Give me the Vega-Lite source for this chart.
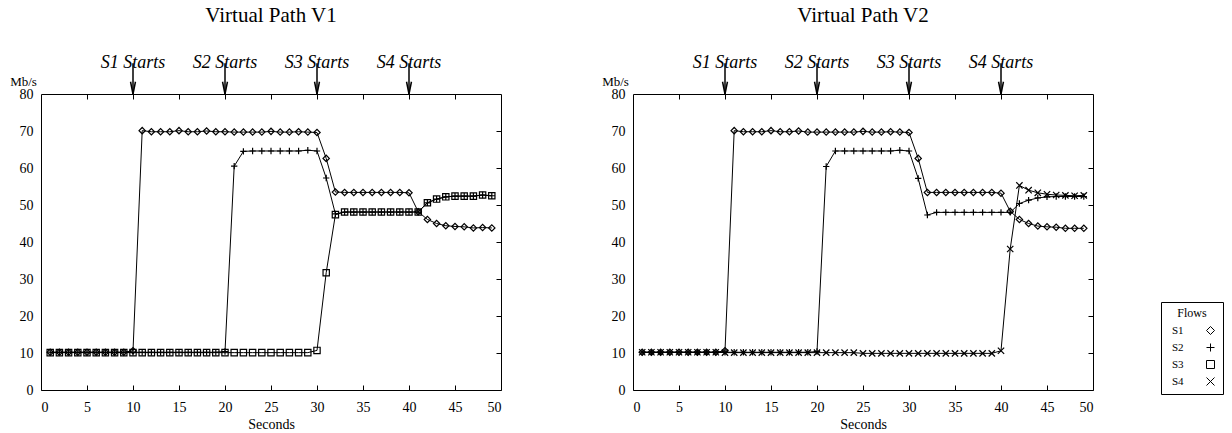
{
  "$schema": "https://vega.github.io/schema/vega-lite/v6.json",
  "autosize": "none",
  "padding": {"left": 41, "top": 94, "right": 1191, "bottom": 339},
  "background": "white",
  "config": {
    "view": {"stroke": "black", "strokeWidth": 1},
    "font": "Liberation Serif",
    "axis": {"grid": false, "domain": false, "labelFont": "Liberation Serif", "titleFont": "Liberation Serif", "labelColor": "black", "titleColor": "black", "tickColor": "black", "labelFontSize": 14, "titleFontSize": 14, "titleFontWeight": "normal"},
    "title": {"font": "Liberation Serif", "fontSize": 21, "fontWeight": "normal", "color": "black", "offset": 28},
    "legend": {"orient": "none", "legendX": 1120, "legendY": 208, "strokeColor": "black", "padding": 6, "labelFont": "Liberation Serif", "labelFontSize": 11, "labelColor": "black", "titleFont": "Liberation Serif", "titleFontSize": 12, "titleFontWeight": "normal", "titleColor": "black", "titleAnchor": "middle", "symbolSize": 64, "symbolStrokeColor": "black", "symbolStrokeWidth": 1, "symbolOffset": 38, "labelOffset": -44, "rowPadding": 4}
  },
  "resolve": {"legend": {"shape": "independent"}},
  "datasets": {
    "ann": [
      {"t": 10, "label": "S1 Starts"},
      {"t": 20, "label": "S2 Starts"},
      {"t": 30, "label": "S3 Starts"},
      {"t": 40, "label": "S4 Starts"}
    ],
    "v1": [
      {"t":1,"f":"S1","v":10.2},{"t":2,"f":"S1","v":10.2},{"t":3,"f":"S1","v":10.2},{"t":4,"f":"S1","v":10.2},{"t":5,"f":"S1","v":10.2},{"t":6,"f":"S1","v":10.2},{"t":7,"f":"S1","v":10.2},{"t":8,"f":"S1","v":10.2},{"t":9,"f":"S1","v":10.2},{"t":10,"f":"S1","v":10.6},
      {"t":11,"f":"S1","v":70.1},{"t":12,"f":"S1","v":69.8},{"t":13,"f":"S1","v":69.8},{"t":14,"f":"S1","v":69.8},{"t":15,"f":"S1","v":70.1},{"t":16,"f":"S1","v":69.8},{"t":17,"f":"S1","v":69.8},{"t":18,"f":"S1","v":70.0},{"t":19,"f":"S1","v":69.8},{"t":20,"f":"S1","v":69.8},
      {"t":21,"f":"S1","v":69.7},{"t":22,"f":"S1","v":69.7},{"t":23,"f":"S1","v":69.7},{"t":24,"f":"S1","v":69.7},{"t":25,"f":"S1","v":69.9},{"t":26,"f":"S1","v":69.7},{"t":27,"f":"S1","v":69.7},{"t":28,"f":"S1","v":69.8},{"t":29,"f":"S1","v":69.7},{"t":30,"f":"S1","v":69.6},
      {"t":31,"f":"S1","v":62.6},{"t":32,"f":"S1","v":53.5},{"t":33,"f":"S1","v":53.4},{"t":34,"f":"S1","v":53.4},{"t":35,"f":"S1","v":53.4},{"t":36,"f":"S1","v":53.4},{"t":37,"f":"S1","v":53.4},{"t":38,"f":"S1","v":53.4},{"t":39,"f":"S1","v":53.4},{"t":40,"f":"S1","v":53.3},
      {"t":41,"f":"S1","v":48.2},{"t":42,"f":"S1","v":46.1},{"t":43,"f":"S1","v":45.0},{"t":44,"f":"S1","v":44.4},{"t":45,"f":"S1","v":44.2},{"t":46,"f":"S1","v":44.1},{"t":47,"f":"S1","v":43.8},{"t":48,"f":"S1","v":43.9},{"t":49,"f":"S1","v":43.8},
      {"t":1,"f":"S2","v":10.2},{"t":2,"f":"S2","v":10.2},{"t":3,"f":"S2","v":10.2},{"t":4,"f":"S2","v":10.2},{"t":5,"f":"S2","v":10.2},{"t":6,"f":"S2","v":10.2},{"t":7,"f":"S2","v":10.2},{"t":8,"f":"S2","v":10.2},{"t":9,"f":"S2","v":10.2},{"t":10,"f":"S2","v":10.2},
      {"t":11,"f":"S2","v":10.2},{"t":12,"f":"S2","v":10.2},{"t":13,"f":"S2","v":10.2},{"t":14,"f":"S2","v":10.2},{"t":15,"f":"S2","v":10.2},{"t":16,"f":"S2","v":10.2},{"t":17,"f":"S2","v":10.2},{"t":18,"f":"S2","v":10.2},{"t":19,"f":"S2","v":10.2},{"t":20,"f":"S2","v":10.4},
      {"t":21,"f":"S2","v":60.5},{"t":22,"f":"S2","v":64.5},{"t":23,"f":"S2","v":64.6},{"t":24,"f":"S2","v":64.6},{"t":25,"f":"S2","v":64.6},{"t":26,"f":"S2","v":64.6},{"t":27,"f":"S2","v":64.6},{"t":28,"f":"S2","v":64.6},{"t":29,"f":"S2","v":64.8},{"t":30,"f":"S2","v":64.6},
      {"t":31,"f":"S2","v":57.3},{"t":32,"f":"S2","v":47.6},{"t":33,"f":"S2","v":48.1},{"t":34,"f":"S2","v":48.1},{"t":35,"f":"S2","v":48.1},{"t":36,"f":"S2","v":48.1},{"t":37,"f":"S2","v":48.1},{"t":38,"f":"S2","v":48.1},{"t":39,"f":"S2","v":48.1},{"t":40,"f":"S2","v":48.1},
      {"t":41,"f":"S2","v":48.1},{"t":42,"f":"S2","v":50.6},{"t":43,"f":"S2","v":51.6},{"t":44,"f":"S2","v":52.2},{"t":45,"f":"S2","v":52.4},{"t":46,"f":"S2","v":52.4},{"t":47,"f":"S2","v":52.4},{"t":48,"f":"S2","v":52.7},{"t":49,"f":"S2","v":52.5},
      {"t":1,"f":"S3","v":10.1},{"t":2,"f":"S3","v":10.1},{"t":3,"f":"S3","v":10.1},{"t":4,"f":"S3","v":10.1},{"t":5,"f":"S3","v":10.1},{"t":6,"f":"S3","v":10.1},{"t":7,"f":"S3","v":10.1},{"t":8,"f":"S3","v":10.1},{"t":9,"f":"S3","v":10.1},{"t":10,"f":"S3","v":10.1},
      {"t":11,"f":"S3","v":10.1},{"t":12,"f":"S3","v":10.1},{"t":13,"f":"S3","v":10.1},{"t":14,"f":"S3","v":10.1},{"t":15,"f":"S3","v":10.1},{"t":16,"f":"S3","v":10.1},{"t":17,"f":"S3","v":10.1},{"t":18,"f":"S3","v":10.1},{"t":19,"f":"S3","v":10.1},{"t":20,"f":"S3","v":10.1},
      {"t":21,"f":"S3","v":10.1},{"t":22,"f":"S3","v":10.1},{"t":23,"f":"S3","v":10.1},{"t":24,"f":"S3","v":10.1},{"t":25,"f":"S3","v":10.1},{"t":26,"f":"S3","v":10.1},{"t":27,"f":"S3","v":10.1},{"t":28,"f":"S3","v":10.1},{"t":29,"f":"S3","v":10.1},{"t":30,"f":"S3","v":10.7},
      {"t":31,"f":"S3","v":31.7},{"t":32,"f":"S3","v":47.4},{"t":33,"f":"S3","v":48.1},{"t":34,"f":"S3","v":48.1},{"t":35,"f":"S3","v":48.1},{"t":36,"f":"S3","v":48.1},{"t":37,"f":"S3","v":48.1},{"t":38,"f":"S3","v":48.1},{"t":39,"f":"S3","v":48.1},{"t":40,"f":"S3","v":48.1},
      {"t":41,"f":"S3","v":48.1},{"t":42,"f":"S3","v":50.6},{"t":43,"f":"S3","v":51.6},{"t":44,"f":"S3","v":52.2},{"t":45,"f":"S3","v":52.4},{"t":46,"f":"S3","v":52.4},{"t":47,"f":"S3","v":52.4},{"t":48,"f":"S3","v":52.7},{"t":49,"f":"S3","v":52.5}
    ],
    "v2": [
      {"t":1,"f":"S1","v":10.2},{"t":2,"f":"S1","v":10.2},{"t":3,"f":"S1","v":10.2},{"t":4,"f":"S1","v":10.2},{"t":5,"f":"S1","v":10.2},{"t":6,"f":"S1","v":10.2},{"t":7,"f":"S1","v":10.2},{"t":8,"f":"S1","v":10.2},{"t":9,"f":"S1","v":10.2},{"t":10,"f":"S1","v":10.6},
      {"t":11,"f":"S1","v":70.1},{"t":12,"f":"S1","v":69.8},{"t":13,"f":"S1","v":69.8},{"t":14,"f":"S1","v":69.8},{"t":15,"f":"S1","v":70.1},{"t":16,"f":"S1","v":69.8},{"t":17,"f":"S1","v":69.8},{"t":18,"f":"S1","v":70.0},{"t":19,"f":"S1","v":69.7},{"t":20,"f":"S1","v":69.7},
      {"t":21,"f":"S1","v":69.7},{"t":22,"f":"S1","v":69.7},{"t":23,"f":"S1","v":69.7},{"t":24,"f":"S1","v":69.7},{"t":25,"f":"S1","v":69.9},{"t":26,"f":"S1","v":69.7},{"t":27,"f":"S1","v":69.7},{"t":28,"f":"S1","v":69.8},{"t":29,"f":"S1","v":69.7},{"t":30,"f":"S1","v":69.6},
      {"t":31,"f":"S1","v":62.6},{"t":32,"f":"S1","v":53.4},{"t":33,"f":"S1","v":53.4},{"t":34,"f":"S1","v":53.4},{"t":35,"f":"S1","v":53.4},{"t":36,"f":"S1","v":53.4},{"t":37,"f":"S1","v":53.4},{"t":38,"f":"S1","v":53.4},{"t":39,"f":"S1","v":53.4},{"t":40,"f":"S1","v":53.2},
      {"t":41,"f":"S1","v":48.3},{"t":42,"f":"S1","v":46.1},{"t":43,"f":"S1","v":45.0},{"t":44,"f":"S1","v":44.3},{"t":45,"f":"S1","v":44.1},{"t":46,"f":"S1","v":44.0},{"t":47,"f":"S1","v":43.7},{"t":48,"f":"S1","v":43.7},{"t":49,"f":"S1","v":43.7},
      {"t":1,"f":"S2","v":10.2},{"t":2,"f":"S2","v":10.2},{"t":3,"f":"S2","v":10.2},{"t":4,"f":"S2","v":10.2},{"t":5,"f":"S2","v":10.2},{"t":6,"f":"S2","v":10.2},{"t":7,"f":"S2","v":10.2},{"t":8,"f":"S2","v":10.2},{"t":9,"f":"S2","v":10.2},{"t":10,"f":"S2","v":10.2},
      {"t":11,"f":"S2","v":10.2},{"t":12,"f":"S2","v":10.2},{"t":13,"f":"S2","v":10.2},{"t":14,"f":"S2","v":10.2},{"t":15,"f":"S2","v":10.2},{"t":16,"f":"S2","v":10.2},{"t":17,"f":"S2","v":10.2},{"t":18,"f":"S2","v":10.2},{"t":19,"f":"S2","v":10.2},{"t":20,"f":"S2","v":10.4},
      {"t":21,"f":"S2","v":60.4},{"t":22,"f":"S2","v":64.6},{"t":23,"f":"S2","v":64.6},{"t":24,"f":"S2","v":64.6},{"t":25,"f":"S2","v":64.6},{"t":26,"f":"S2","v":64.6},{"t":27,"f":"S2","v":64.6},{"t":28,"f":"S2","v":64.6},{"t":29,"f":"S2","v":64.8},{"t":30,"f":"S2","v":64.6},
      {"t":31,"f":"S2","v":57.2},{"t":32,"f":"S2","v":47.3},{"t":33,"f":"S2","v":48.0},{"t":34,"f":"S2","v":48.0},{"t":35,"f":"S2","v":48.0},{"t":36,"f":"S2","v":48.0},{"t":37,"f":"S2","v":48.0},{"t":38,"f":"S2","v":48.0},{"t":39,"f":"S2","v":48.0},{"t":40,"f":"S2","v":48.0},
      {"t":41,"f":"S2","v":48.0},{"t":42,"f":"S2","v":50.4},{"t":43,"f":"S2","v":51.3},{"t":44,"f":"S2","v":51.9},{"t":45,"f":"S2","v":52.2},{"t":46,"f":"S2","v":52.3},{"t":47,"f":"S2","v":52.3},{"t":48,"f":"S2","v":52.3},{"t":49,"f":"S2","v":52.3},
      {"t":1,"f":"S4","v":10.2},{"t":2,"f":"S4","v":10.2},{"t":3,"f":"S4","v":10.2},{"t":4,"f":"S4","v":10.2},{"t":5,"f":"S4","v":10.2},{"t":6,"f":"S4","v":10.2},{"t":7,"f":"S4","v":10.2},{"t":8,"f":"S4","v":10.2},{"t":9,"f":"S4","v":10.2},{"t":10,"f":"S4","v":10.1},
      {"t":11,"f":"S4","v":10.1},{"t":12,"f":"S4","v":10.1},{"t":13,"f":"S4","v":10.1},{"t":14,"f":"S4","v":10.1},{"t":15,"f":"S4","v":10.1},{"t":16,"f":"S4","v":10.1},{"t":17,"f":"S4","v":10.1},{"t":18,"f":"S4","v":10.1},{"t":19,"f":"S4","v":10.1},{"t":20,"f":"S4","v":10.1},
      {"t":21,"f":"S4","v":10.1},{"t":22,"f":"S4","v":10.1},{"t":23,"f":"S4","v":10.1},{"t":24,"f":"S4","v":10.1},{"t":25,"f":"S4","v":9.9},{"t":26,"f":"S4","v":9.9},{"t":27,"f":"S4","v":9.9},{"t":28,"f":"S4","v":9.9},{"t":29,"f":"S4","v":9.9},{"t":30,"f":"S4","v":9.9},
      {"t":31,"f":"S4","v":9.9},{"t":32,"f":"S4","v":9.9},{"t":33,"f":"S4","v":9.9},{"t":34,"f":"S4","v":9.9},{"t":35,"f":"S4","v":9.9},{"t":36,"f":"S4","v":9.9},{"t":37,"f":"S4","v":9.9},{"t":38,"f":"S4","v":9.9},{"t":39,"f":"S4","v":9.9},{"t":40,"f":"S4","v":10.6},
      {"t":41,"f":"S4","v":38.1},{"t":42,"f":"S4","v":55.3},{"t":43,"f":"S4","v":54.0},{"t":44,"f":"S4","v":53.3},{"t":45,"f":"S4","v":52.9},{"t":46,"f":"S4","v":52.7},{"t":47,"f":"S4","v":52.6},{"t":48,"f":"S4","v":52.5},{"t":49,"f":"S4","v":52.6}
    ]
  },
  "spacing": 132,
  "bounds": "flush",
  "hconcat": [
    {
      "width": 460, "height": 296,
      "title": {"text": "Virtual Path V1"},
      "layer": [
        {
          "data": {"name": "v1"},
          "mark": {"type": "line", "color": "black", "strokeWidth": 1},
          "encoding": {
            "x": {"field": "t", "type": "quantitative", "scale": {"domain": [0, 50]}, "axis": {"orient": "bottom", "values": [0,5,10,15,20,25,30,35,40,45,50], "tickSize": -5, "labelPadding": 15, "labelFont": "Liberation Serif", "labelFontSize": 14, "labelColor": "black", "title": "Seconds", "titleFont": "Liberation Serif", "titleFontSize": 14, "titleFontWeight": "normal", "titleColor": "black", "titlePadding": 3}},
            "y": {"field": "v", "type": "quantitative", "scale": {"domain": [0, 80]}, "axis": {"orient": "left", "values": [0,10,20,30,40,50,60,70,80], "ticks": false, "labelPadding": 8, "labelFont": "Liberation Serif", "labelFontSize": 14, "labelColor": "black", "title": "Mb/s", "titleFont": "Liberation Serif", "titleFontSize": 13, "titleFontWeight": "normal", "titleColor": "black", "titleAngle": 0, "titleX": -18, "titleY": -9, "titleAlign": "center", "titleBaseline": "alphabetic"}},
            "detail": {"field": "f", "type": "nominal"}
          }
        },
        {
          "data": {"name": "v1"},
          "mark": {"type": "point", "filled": false, "color": "black", "strokeWidth": 1.2, "size": 40, "opacity": 1},
          "encoding": {
            "x": {"field": "t", "type": "quantitative", "scale": {"domain": [0, 50]}, "axis": {"orient": "top", "values": [5,10,15,20,25,30,35,40,45], "labels": false, "ticks": true, "tickColor": "black", "tickWidth": 1, "tickSize": -5, "title": null}},
            "y": {"field": "v", "type": "quantitative", "scale": {"domain": [0, 80]}, "axis": {"orient": "right", "values": [10,20,30,40,50,60,70], "labels": false, "ticks": true, "tickColor": "black", "tickWidth": 1, "tickSize": -5, "title": null}},
            "shape": {"field": "f", "type": "nominal", "title": "Flows",
              "scale": {"domain": ["S1", "S2", "S3", "S4"], "range": ["diamond", "M-1,0L1,0M0,-1L0,1", "square", "M-1,-1L1,1M-1,1L1,-1"]},
              "legend": {"labelFont": "Liberation Serif", "labelFontSize": 11, "titleFont": "Liberation Serif", "titleFontSize": 12, "titleFontWeight": "normal",
                "encode": {
                  "symbols": {"update": {
                    "shape": {"signal": "datum.value === 'S1' ? 'M-3.2,0L3.2,0M0,-0.8L0.8,0L0,0.8L-0.8,0Z' : datum.value === 'S2' ? 'M-3.2,0L3.2,0M0,-0.9L0,0.9' : datum.value === 'S3' ? 'M-3.2,0L-0.8,0M0.8,0L3.2,0M-0.8,-0.8L0.8,-0.8L0.8,0.8L-0.8,0.8Z' : 'M-3.2,0L3.2,0M-0.8,-0.8L0.8,0.8M-0.8,0.8L0.8,-0.8'"},
                    "fill": {"signal": "datum.value === 'S1' ? 'black' : 'transparent'"}
                  }}}}
            }
          }
        },
        {
          "data": {"name": "ann"},
          "mark": {"type": "text", "font": "Liberation Serif", "fontStyle": "italic", "fontSize": 18, "align": "center", "baseline": "alphabetic", "color": "black"},
          "encoding": {
            "x": {"field": "t", "type": "quantitative", "axis": null},
            "y": {"datum": 87.0, "axis": null},
            "text": {"field": "label"}
          }
        },
        {
          "data": {"name": "ann"},
          "mark": {"type": "rule", "color": "black", "strokeWidth": 1.5},
          "encoding": {
            "x": {"field": "t", "type": "quantitative", "axis": null},
            "y": {"datum": 88.3, "axis": null},
            "y2": {"datum": 80}
          }
        },
        {
          "data": {"name": "ann"},
          "mark": {"type": "point", "filled": false, "color": "black", "strokeWidth": 1.5, "size": 150, "opacity": 1, "shape": "M-0.4,-1L0,1L0.4,-1"},
          "encoding": {
            "x": {"field": "t", "type": "quantitative", "axis": null},
            "y": {"datum": 81.65, "axis": null}
          }
        }
      ]
    },
    {
      "width": 460, "height": 296,
      "title": {"text": "Virtual Path V2"},
      "layer": [
        {
          "data": {"name": "v2"},
          "mark": {"type": "line", "color": "black", "strokeWidth": 1},
          "encoding": {
            "x": {"field": "t", "type": "quantitative", "scale": {"domain": [0, 50]}, "axis": {"orient": "bottom", "values": [0,5,10,15,20,25,30,35,40,45,50], "tickSize": -5, "labelPadding": 15, "labelFont": "Liberation Serif", "labelFontSize": 14, "labelColor": "black", "title": "Seconds", "titleFont": "Liberation Serif", "titleFontSize": 14, "titleFontWeight": "normal", "titleColor": "black", "titlePadding": 3}},
            "y": {"field": "v", "type": "quantitative", "scale": {"domain": [0, 80]}, "axis": {"orient": "left", "values": [0,10,20,30,40,50,60,70,80], "ticks": false, "labelPadding": 8, "labelFont": "Liberation Serif", "labelFontSize": 14, "labelColor": "black", "title": "Mb/s", "titleFont": "Liberation Serif", "titleFontSize": 13, "titleFontWeight": "normal", "titleColor": "black", "titleAngle": 0, "titleX": -18, "titleY": -9, "titleAlign": "center", "titleBaseline": "alphabetic"}},
            "detail": {"field": "f", "type": "nominal"}
          }
        },
        {
          "data": {"name": "v2"},
          "mark": {"type": "point", "filled": false, "color": "black", "strokeWidth": 1.2, "size": 40, "opacity": 1},
          "encoding": {
            "x": {"field": "t", "type": "quantitative", "scale": {"domain": [0, 50]}, "axis": {"orient": "top", "values": [5,10,15,20,25,30,35,40,45], "labels": false, "ticks": true, "tickColor": "black", "tickWidth": 1, "tickSize": -5, "title": null}},
            "y": {"field": "v", "type": "quantitative", "scale": {"domain": [0, 80]}, "axis": {"orient": "right", "values": [10,20,30,40,50,60,70], "labels": false, "ticks": true, "tickColor": "black", "tickWidth": 1, "tickSize": -5, "title": null}},
            "shape": {"field": "f", "type": "nominal",
              "scale": {"domain": ["S1", "S2", "S3", "S4"], "range": ["diamond", "M-1,0L1,0M0,-1L0,1", "square", "M-1,-1L1,1M-1,1L1,-1"]},
              "legend": null
            }
          }
        },
        {
          "data": {"name": "ann"},
          "mark": {"type": "text", "font": "Liberation Serif", "fontStyle": "italic", "fontSize": 18, "align": "center", "baseline": "alphabetic", "color": "black"},
          "encoding": {
            "x": {"field": "t", "type": "quantitative", "axis": null},
            "y": {"datum": 87.0, "axis": null},
            "text": {"field": "label"}
          }
        },
        {
          "data": {"name": "ann"},
          "mark": {"type": "rule", "color": "black", "strokeWidth": 1.5},
          "encoding": {
            "x": {"field": "t", "type": "quantitative", "axis": null},
            "y": {"datum": 88.3, "axis": null},
            "y2": {"datum": 80}
          }
        },
        {
          "data": {"name": "ann"},
          "mark": {"type": "point", "filled": false, "color": "black", "strokeWidth": 1.5, "size": 150, "opacity": 1, "shape": "M-0.4,-1L0,1L0.4,-1"},
          "encoding": {
            "x": {"field": "t", "type": "quantitative", "axis": null},
            "y": {"datum": 81.65, "axis": null}
          }
        }
      ]
    }
  ]
}
